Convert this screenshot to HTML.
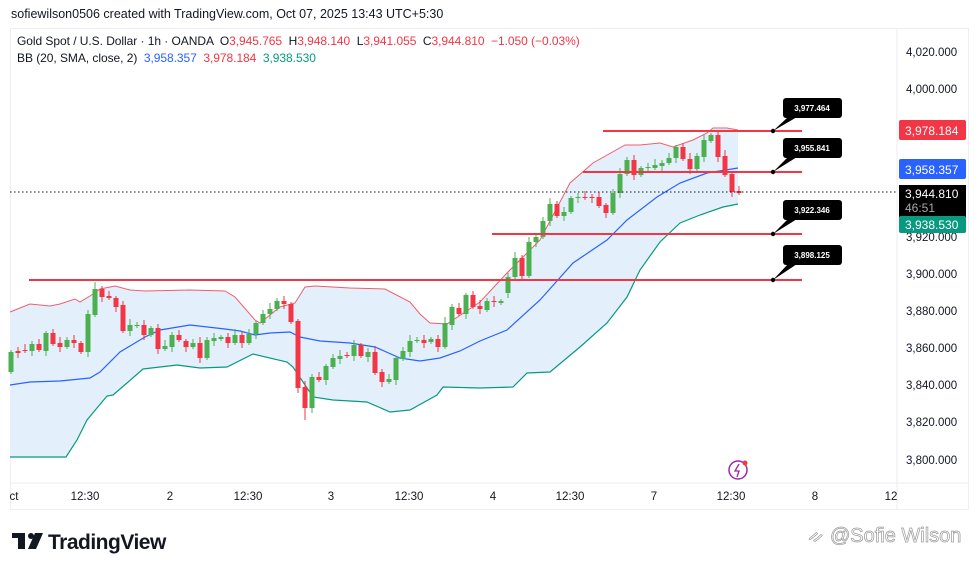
<!DOCTYPE html>
<html><head><meta charset="utf-8"><style>
body{margin:0;width:980px;height:571px;background:#fff;font-family:"Liberation Sans",sans-serif;overflow:hidden;position:relative}
.t{position:absolute;white-space:nowrap}
</style></head><body>
<div class="t" style="left:11px;top:7px;font-size:12.5px;color:#131722">sofiewilson0506 created with TradingView.com, Oct 07, 2025 13:43 UTC+5:30</div>
<div style="position:absolute;left:10px;top:28px;width:959px;height:482px;border:1px solid #eceef2;box-sizing:border-box"></div>
<svg width="980" height="571" style="position:absolute;left:0;top:0" id="s">
<line x1="897" y1="29" x2="897" y2="510" stroke="#eceef2"/>
<line x1="11" y1="483" x2="968" y2="483" stroke="#eceef2"/>
<polygon id="fill" fill="#e3f0fc"/>
<polyline id="up" fill="none" stroke="#f23645" stroke-width="1" opacity="0.8"/>
<polyline id="mid" fill="none" stroke="#2962ff" stroke-width="1.2"/>
<polyline id="lo" fill="none" stroke="#089981" stroke-width="1.2"/>
<g id="c"></g>
<line x1="10" y1="192" x2="897" y2="192" stroke="#131722" stroke-dasharray="1.5,2.5"/>
<g stroke="#f23645" stroke-width="2">
<line x1="603" y1="131" x2="802" y2="131"/>
<line x1="583" y1="172" x2="802" y2="172"/>
<line x1="492" y1="234" x2="802" y2="234"/>
<line x1="29" y1="280" x2="802" y2="280"/>
</g>
<g fill="#000">
<circle cx="773" cy="131" r="2.2"/><circle cx="773" cy="172" r="2.2"/><circle cx="773" cy="234" r="2.2"/><circle cx="773" cy="280" r="2.2"/>
<rect x="783" y="98" width="59" height="20" rx="3"/><polygon points="773,131 788,117 797,117"/>
<rect x="783" y="138" width="59" height="20" rx="3"/><polygon points="773,172 788,157 797,157"/>
<rect x="783" y="200" width="59" height="20" rx="3"/><polygon points="773,234 788,219 797,219"/>
<rect x="783" y="245" width="59" height="20" rx="3"/><polygon points="773,280 788,264 797,264"/>
</g>
<g fill="#fff" font-size="8" font-weight="bold" text-anchor="middle" font-family="Liberation Sans,sans-serif">
<text x="812" y="111">3,977.464</text><text x="812" y="151">3,955.841</text><text x="812" y="213">3,922.346</text><text x="812" y="258">3,898.125</text>
</g>
<g font-size="11.5" fill="#131722" font-family="Liberation Sans,sans-serif">
<text x="906" y="56">4,020.000</text><text x="906" y="93">4,000.000</text><text x="906" y="241">3,920.000</text><text x="906" y="278">3,900.000</text><text x="906" y="315">3,880.000</text><text x="906" y="352">3,860.000</text><text x="906" y="389">3,840.000</text><text x="906" y="426">3,820.000</text><text x="906" y="464">3,800.000</text>
</g>
<rect x="899" y="120" width="67" height="20" rx="2" fill="#f23645"/><text x="905" y="135" fill="#fff" font-size="12" font-family="Liberation Sans,sans-serif">3,978.184</text>
<rect x="899" y="159" width="67" height="20" rx="2" fill="#2962ff"/><text x="905" y="174" fill="#fff" font-size="12" font-family="Liberation Sans,sans-serif">3,958.357</text>
<rect x="899" y="185" width="67" height="32" fill="#000"/><text x="905" y="198" fill="#fff" font-size="12" font-family="Liberation Sans,sans-serif">3,944.810</text><text x="905" y="212" fill="#aaa" font-size="12" font-family="Liberation Sans,sans-serif">46:51</text>
<rect x="899" y="216" width="67" height="17" rx="2" fill="#089981"/><text x="905" y="229" fill="#fff" font-size="12" font-family="Liberation Sans,sans-serif">3,938.530</text>
<g font-size="11.5" fill="#131722" text-anchor="middle" font-family="Liberation Sans,sans-serif">
<text x="14" y="500">ct</text><text x="85" y="500">12:30</text><text x="170" y="500">2</text><text x="248" y="500">12:30</text><text x="331" y="500">3</text><text x="409" y="500">12:30</text><text x="493" y="500">4</text><text x="570" y="500">12:30</text><text x="654" y="500">7</text><text x="731" y="500">12:30</text><text x="815" y="500">8</text><text x="891" y="500">12</text>
</g>
<circle cx="738" cy="470" r="9" fill="none" stroke="#9c27b0" stroke-width="1.5"/><path d="M739,464 L735,471 L739,471 L737,477" fill="none" stroke="#9c27b0" stroke-width="1.3"/><circle cx="745" cy="463" r="2.5" fill="#f23645"/>
<g fill="#131722"><rect x="12" y="533" width="13" height="5"/><rect x="18" y="533" width="7" height="16"/><circle cx="31" cy="536" r="3"/><polygon points="35,533 43,533 36,549 28,549"/></g>
<text x="48" y="549" font-size="21" font-weight="bold" fill="#131722" font-family="Liberation Sans,sans-serif" letter-spacing="-0.5">TradingView</text>
</svg>
<div class="t" style="left:17px;top:34px;font-size:12px;color:#131722;letter-spacing:-0.05px">Gold Spot / U.S. Dollar · 1h · OANDA &nbsp;O<span style="color:#f23645">3,945.765</span>&nbsp; H<span style="color:#f23645">3,948.140</span>&nbsp; L<span style="color:#f23645">3,941.055</span>&nbsp; C<span style="color:#f23645">3,944.810 &nbsp;−1.050 (−0.03%)</span></div>
<div class="t" style="left:17px;top:51px;font-size:12px;color:#131722;letter-spacing:-0.05px">BB (20, SMA, close, 2)&nbsp; <span style="color:#2962ff">3,958.357</span>&nbsp; <span style="color:#f23645">3,978.184</span>&nbsp; <span style="color:#089981">3,938.530</span></div>
<div class="t" style="left:808px;top:525px;font-size:20px;color:#fff;-webkit-text-stroke:0.7px #999">ᨀ @Sofie Wilson</div>
<script>
var d=[["g",352,372],["r",351,353],["r",350,351],["g",344,351],["r",344,350],["g",333,351],["r",333,344],["r",343,347],["g",340,347],["r",340,343],["r",343,352],["g",314,352],["g",289,315],["r",289,297],["r",296,298],["r",298,307],["r",305,331],["g",325,331],["g",325,326],["r",325,335],["g",328,335],["r",328,349],["g",346,349],["g",335,347],["r",335,340],["r",341,347],["g",343,347],["r",343,358],["g",340,358],["g",338,341],["g",337,339],["r",337,343],["g",335,343],["r",335,343],["g",334,343],["g",323,334],["g",314,323],["g",309,314],["g",301,309],["r",301,304],["r",304,322],["r",321,388],["r",387,408],["g",377,408],["r",377,380],["g",366,380],["g",358,367],["g",356,359],["r",355,356],["g",345,356],["r",345,356],["g",352,357],["r",352,373],["r",372,382],["g",379,382],["g",358,380],["g",351,359],["g",341,352],["g",340,341],["r",340,343],["g",339,342],["r",339,347],["g",323,347],["g",307,325],["r",308,314],["g",295,314],["r",295,307],["r",306,309],["g",301,310],["r",301,302],["g",301,303],["g",277,293],["g",258,277],["r",258,276],["g",242,276],["g",237,242],["g",221,237],["g",204,221],["r",204,216],["g",212,216],["g",198,212],["g",197,198],["r",197,198],["r",197,198],["r",197,206],["r",205,213],["g",193,213],["g",174,193],["g",160,174],["r",160,175],["g",168,175],["g",167,168],["g",165,168],["g",163,166],["g",158,163],["g",147,158],["r",147,159],["r",159,169],["g",156,169],["g",140,157],["g",135,141],["r",135,157],["r",156,175],["r",174,192],["r",191,193]];
var h="";d.forEach(function(c,i){var x=11+i*7,col=c[0]=="g"?"#4caf50":"#f23645";var a=2+((i*7)%5),b=2+((i*3)%6);if(i==41){a=2;}if(i==42){b=12}if(i==12){a=7}
h+='<line x1="'+x+'" x2="'+x+'" y1="'+(c[1]-a)+'" y2="'+(c[2]+b)+'" stroke="'+col+'"/>';h+='<rect x="'+(x-2.5)+'" y="'+c[1]+'" width="5" height="'+Math.max(1,c[2]-c[1])+'" fill="'+col+'"/>';});
document.getElementById("c").innerHTML=h;
var up=[[10,312],[30,304],[50,306],[60,304],[75,299],[80,302],[90,296],[100,289],[115,286],[130,290],[145,291],[190,290],[225,291],[235,297],[255,320],[260,323],[280,307],[295,303],[305,287],[315,286],[350,288],[385,289],[410,302],[420,314],[430,323],[447,324],[480,302],[507,273],[540,240],[570,183],[593,163],[625,145],[640,145],[660,143],[673,147],[693,140],[707,133],[713,128],[727,128],[738,130]];
var mid=[[10,385],[30,382],[60,381],[90,378],[100,372],[120,352],[145,337],[160,330],[190,325],[225,329],[240,331],[255,335],[270,333],[290,332],[300,337],[320,341],[350,343],[375,347],[400,358],[420,361],[440,358],[460,351],[480,341],[507,330],[540,300],[573,263],[607,240],[627,220],[657,197],[680,183],[707,173],[738,168]];
var lo=[[10,457],[66,457],[77,440],[87,420],[107,396],[113,395],[127,383],[143,369],[177,365],[200,368],[227,367],[253,354],[287,362],[293,367],[313,397],[333,400],[367,402],[390,412],[410,410],[437,395],[443,387],[480,388],[513,387],[527,373],[550,372],[580,347],[607,323],[627,297],[640,270],[660,242],[680,223],[700,215],[723,207],[738,204]];
function p(a){return a.map(function(q){return q.join(",")}).join(" ")}
document.getElementById("up").setAttribute("points",p(up));
document.getElementById("mid").setAttribute("points",p(mid));
document.getElementById("lo").setAttribute("points",p(lo));
document.getElementById("fill").setAttribute("points",p(up)+" "+p(lo.slice().reverse()));
</script>
</body></html>
